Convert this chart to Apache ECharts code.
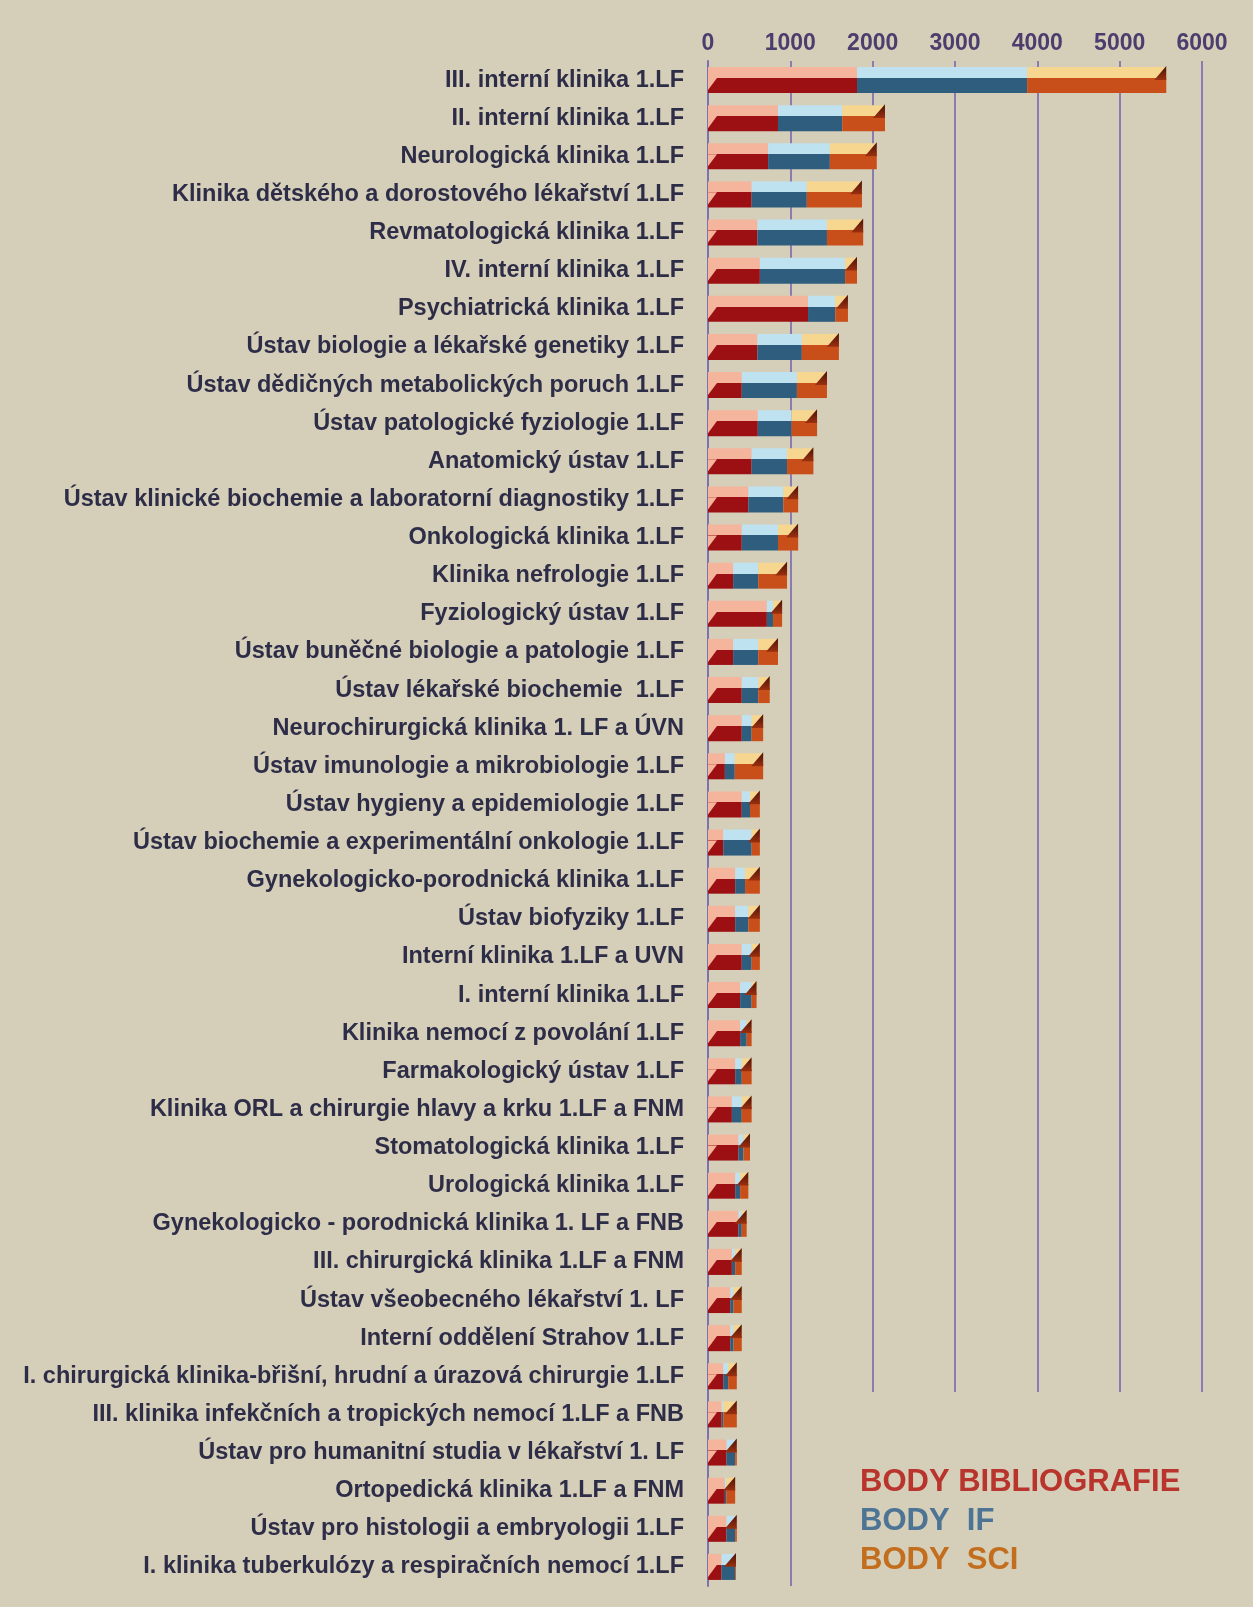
<!DOCTYPE html>
<html>
<head>
<meta charset="utf-8">
<script src="https://cdn.jsdelivr.net/npm/echarts@6/dist/echarts.min.js"></script>
<style>
  html, body { margin: 0; padding: 0; background: #d5cfb9; }
  #chart { width: 1253px; height: 1607px; }
</style>
</head>
<body>
<div id="chart"></div>
<script>
const categories = [
  'III. interní klinika 1.LF',
  'II. interní klinika 1.LF',
  'Neurologická klinika 1.LF',
  'Klinika dětského a dorostového lékařství 1.LF',
  'Revmatologická klinika 1.LF',
  'IV. interní klinika 1.LF',
  'Psychiatrická klinika 1.LF',
  'Ústav biologie a lékařské genetiky 1.LF',
  'Ústav dědičných metabolických poruch 1.LF',
  'Ústav patologické fyziologie 1.LF',
  'Anatomický ústav 1.LF',
  'Ústav klinické biochemie a laboratorní diagnostiky 1.LF',
  'Onkologická klinika 1.LF',
  'Klinika nefrologie 1.LF',
  'Fyziologický ústav 1.LF',
  'Ústav buněčné biologie a patologie 1.LF',
  'Ústav lékařské biochemie  1.LF',
  'Neurochirurgická klinika 1. LF a ÚVN',
  'Ústav imunologie a mikrobiologie 1.LF',
  'Ústav hygieny a epidemiologie 1.LF',
  'Ústav biochemie a experimentální onkologie 1.LF',
  'Gynekologicko-porodnická klinika 1.LF',
  'Ústav biofyziky 1.LF',
  'Interní klinika 1.LF a UVN',
  'I. interní klinika 1.LF',
  'Klinika nemocí z povolání 1.LF',
  'Farmakologický ústav 1.LF',
  'Klinika ORL a chirurgie hlavy a krku 1.LF a FNM',
  'Stomatologická klinika 1.LF',
  'Urologická klinika 1.LF',
  'Gynekologicko - porodnická klinika 1. LF a FNB',
  'III. chirurgická klinika 1.LF a FNM',
  'Ústav všeobecného lékařství 1. LF',
  'Interní oddělení Strahov 1.LF',
  'I. chirurgická klinika-břišní, hrudní a úrazová chirurgie 1.LF',
  'III. klinika infekčních a tropických nemocí 1.LF a FNB',
  'Ústav pro humanitní studia v lékařství 1. LF',
  'Ortopedická klinika 1.LF a FNM',
  'Ústav pro histologii a embryologii 1.LF',
  'I. klinika tuberkulózy a respiračních nemocí 1.LF'
];

const bodyBibliografie = [1810, 850, 730, 530, 600, 630, 1215, 600, 410, 605, 530, 490, 410, 305, 715, 305, 410, 410, 205, 410, 185, 330, 330, 410, 390, 390, 330, 290, 370, 330, 370, 290, 270, 270, 185, 165, 225, 205, 225, 165];
const bodyIF = [2066, 780, 750, 670, 845, 1035, 330, 540, 670, 410, 430, 425, 440, 305, 75, 305, 200, 120, 120, 100, 345, 120, 160, 120, 140, 80, 80, 120, 60, 60, 40, 40, 40, 40, 60, 20, 105, 20, 105, 165];
const bodySCI = [1690, 520, 570, 670, 440, 145, 155, 450, 365, 310, 320, 180, 245, 350, 110, 240, 140, 140, 345, 120, 100, 180, 140, 100, 60, 60, 120, 120, 80, 100, 60, 80, 100, 100, 105, 165, 20, 105, 20, 10];

const seriesNames = ['BODY BIBLIOGRAFIE', 'BODY  IF', 'BODY  SCI'];
const xTicks = { min: 0, max: 6000, interval: 1000 };

const chart = echarts.init(document.getElementById('chart'), null, { renderer: 'canvas' });

function faceGradient(light, dark) {
  return new echarts.graphic.LinearGradient(0, 0, 0, 1, [
    { offset: 0, color: light },
    { offset: 0.42, color: light },
    { offset: 0.42, color: dark },
    { offset: 1, color: dark }
  ]);
}

const BAR_H = 26;
const totals = categories.map((c, i) => bodyBibliografie[i] + bodyIF[i] + bodySCI[i]);
const legendFont = { fontFamily: 'Liberation Sans', fontWeight: 'bold', fontSize: 31 };

const option = {
  backgroundColor: '#d5cfb9',
  animation: false,
  grid: { left: 708, right: 51, top: 61, bottom: 21, containLabel: false },
  legend: {
    orient: 'vertical',
    left: 835,
    top: 1392,
    padding: [75, 80, 25, 20],
    backgroundColor: '#d5cfb9',
    itemWidth: 0,
    itemHeight: 0,
    itemGap: 8,
    selectedMode: false,
    textStyle: legendFont,
    data: [
      { name: seriesNames[0], icon: 'none', textStyle: Object.assign({ color: '#b8342c' }, legendFont) },
      { name: seriesNames[1], icon: 'none', textStyle: Object.assign({ color: '#4d7395' }, legendFont) },
      { name: seriesNames[2], icon: 'none', textStyle: Object.assign({ color: '#c26e1e' }, legendFont) }
    ]
  },
  xAxis: {
    type: 'value',
    position: 'top',
    min: xTicks.min,
    max: xTicks.max,
    interval: xTicks.interval,
    axisLine: { show: false },
    axisTick: { show: false },
    axisLabel: {
      margin: 6,
      color: '#4b3d6e',
      fontFamily: 'Liberation Sans',
      fontWeight: 'bold',
      fontSize: 23,
      formatter: function (v) { return String(v); }
    },
    splitLine: { show: true, lineStyle: { color: '#8a7cb0', width: 2 } }
  },
  yAxis: {
    type: 'category',
    inverse: true,
    data: categories,
    axisLine: { show: true, lineStyle: { color: '#7d72ae', width: 2 } },
    axisTick: { show: false },
    axisLabel: {
      margin: 24,
      color: '#2e2d48',
      fontFamily: 'Liberation Sans',
      fontWeight: 'bold',
      fontSize: 23.5
    }
  },
  series: [
    {
      name: seriesNames[0], type: 'bar', stack: 'body', barWidth: BAR_H,
      itemStyle: { color: faceGradient('#f5b49c', '#9c1014') },
      data: bodyBibliografie
    },
    {
      name: seriesNames[1], type: 'bar', stack: 'body', barWidth: BAR_H,
      itemStyle: { color: faceGradient('#bfe2f1', '#2f5d7e') },
      data: bodyIF
    },
    {
      name: seriesNames[2], type: 'bar', stack: 'body', barWidth: BAR_H,
      itemStyle: { color: faceGradient('#f7d690', '#c94f1a') },
      data: bodySCI
    },
    {
      name: 'caps', type: 'custom', silent: true, z: 5,
      data: totals.map((t, i) => [t, i]),
      encode: { x: 0, y: 1 },
      renderItem: function (params, api) {
        const end = api.coord([api.value(0), api.value(1)]);
        const start = api.coord([0, api.value(1)]);
        const top = end[1] - BAR_H / 2;
        const mid = top + BAR_H * 0.42;
        const bottom = top + BAR_H;
        return {
          type: 'group',
          children: [
            {
              type: 'polygon',
              shape: { points: [[end[0], top - 1], [end[0], mid + 2], [end[0] - 12, mid + 2]] },
              style: { fill: new echarts.graphic.LinearGradient(0, 0, 0, 1, [
                { offset: 0, color: '#4a1208' }, { offset: 1, color: '#9a3010' }]) }
            },
            {
              type: 'polygon',
              shape: { points: [[start[0], mid], [start[0] + 9, mid], [start[0], bottom - 3]] },
              style: { fill: '#f5b49c' }
            }
          ]
        };
      }
    }
  ]
};

chart.setOption(option);
</script>
</body>
</html>
